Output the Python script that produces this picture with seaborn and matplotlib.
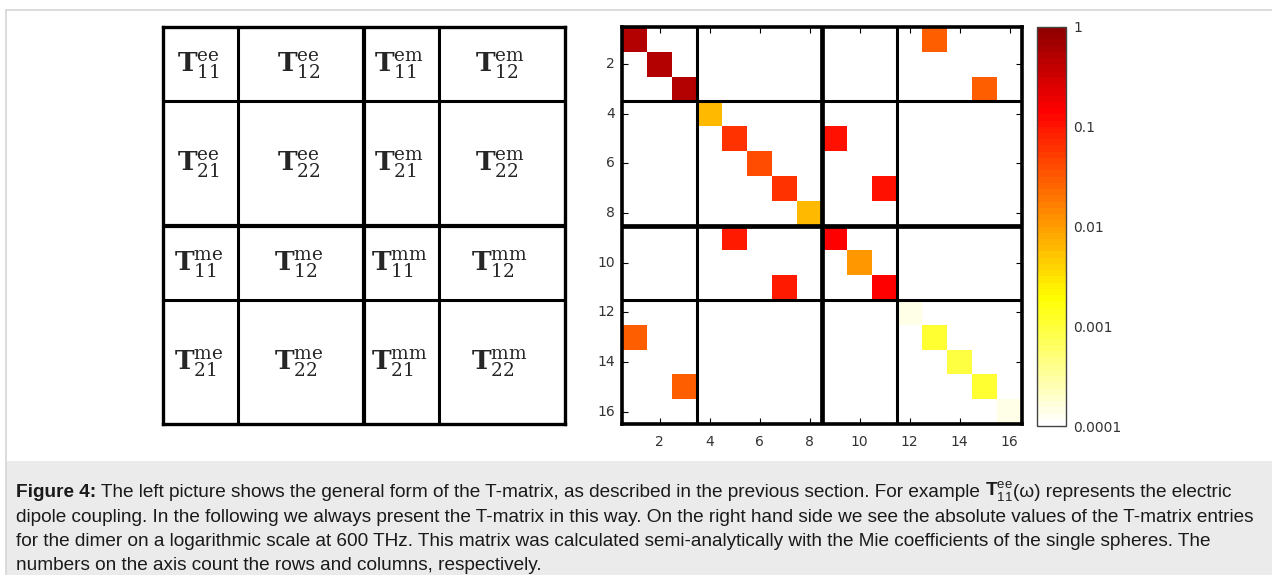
import numpy as np
import pandas as pd
import matplotlib
matplotlib.use("Agg")
import matplotlib.pyplot as plt
from matplotlib.colors import LogNorm, ListedColormap
from matplotlib.lines import Line2D
from matplotlib.patches import Rectangle
import seaborn as sns

# ---------------- data ----------------
n_modes = 16
block_sizes = [3, 5, 3, 5]          # dipole / quadrupole blocks for sphere 1, 2 (e then m)
block_bounds = [3, 8, 11]           # boundaries between blocks
diag_values = [0.5, 0.5, 0.5, 0.006, 0.06, 0.04, 0.06, 0.006,
               0.15, 0.01, 0.15, 0.00015, 0.001, 0.0009, 0.001, 0.00015]
coupling_rows = [1, 3, 13, 15, 5, 7, 9, 11]
coupling_cols = [13, 15, 1, 3, 9, 11, 5, 7]
coupling_values = [0.03, 0.03, 0.03, 0.03, 0.1, 0.1, 0.09, 0.09]
tick_labels = [2, 4, 6, 8, 10, 12, 14, 16]
cbar_ticks = [1e-4, 1e-3, 1e-2, 1e-1, 1]
cbar_labels = ["0.0001", "0.001", "0.01", "0.1", "1"]
block_types = [["ee", "em"], ["me", "mm"]]

W, H = 1272, 575
sns.set_theme(style="white")
plt.rcParams["font.family"] = ["DejaVu Sans"]
plt.rcParams["mathtext.fontset"] = "custom"
plt.rcParams["mathtext.rm"] = "Liberation Sans"
plt.rcParams["mathtext.bf"] = "Liberation Sans:bold"

fig = plt.figure(figsize=(W / 100, H / 100), dpi=100)
fig.patch.set_facecolor("white")

def px_rect(x0, y0, x1, y1):
    return [x0 / W, 1 - y1 / H, (x1 - x0) / W, (y1 - y0) / H]

# ---------------- caption panel + frame ----------------
fig.add_artist(Rectangle((6 / W, 0), 1 - 6 / W, 1 - 461 / H, transform=fig.transFigure,
                         facecolor="#ebebeb", edgecolor="none", zorder=0))
fig.add_artist(Line2D([6 / W, 1], [1 - 10 / H, 1 - 10 / H], transform=fig.transFigure,
                      color="#d6d6d6", lw=1.2))
fig.add_artist(Line2D([6 / W, 6 / W], [0, 1 - 10 / H], transform=fig.transFigure,
                      color="#d6d6d6", lw=1.2))

# ---------------- left: block structure ----------------
ax_t = fig.add_axes(px_rect(163, 27, 565, 424))
ax_t.set_xlim(0, n_modes)
ax_t.set_ylim(n_modes, 0)
ax_t.set_xticks([])
ax_t.set_yticks([])
for s in ax_t.spines.values():
    s.set_visible(True)
    s.set_linewidth(2.4)
    s.set_color("black")
for b in block_bounds:
    lw = 3.0 if b == 8 else 2.2
    ax_t.axvline(b, color="black", lw=lw)
    ax_t.axhline(b, color="black", lw=lw)
edges = np.concatenate([[0], np.cumsum(block_sizes)])
for r in range(4):
    for c in range(4):
        sup = block_types[r // 2][c // 2]
        sub = f"{r % 2 + 1}{c % 2 + 1}"
        ax_t.text((edges[c] + edges[c + 1]) / 2 - 0.1, (edges[r] + edges[r + 1]) / 2 + 0.05,
                  r"$\mathbf{T}_{%s}^{\mathrm{%s}}$" % (sub, sup),
                  ha="center", va="center", fontsize=19, math_fontfamily="dejavuserif")

# ---------------- right: |T| on a log scale ----------------
mat = np.zeros((n_modes, n_modes))
for i, v in enumerate(diag_values):
    mat[i, i] = v
for r, c, v in zip(coupling_rows, coupling_cols, coupling_values):
    mat[r - 1, c - 1] = v
labels = list(range(1, n_modes + 1))
df = pd.DataFrame(mat, index=labels, columns=labels)

cmap = ListedColormap(plt.get_cmap("hot")(np.linspace(1.0, 0.2, 64)))
ax_h = fig.add_axes(px_rect(622, 27, 1022, 424))
cax = fig.add_axes(px_rect(1037, 27, 1066, 426))
sns.heatmap(df, ax=ax_h, cmap=cmap, norm=LogNorm(vmin=1e-4, vmax=1),
            mask=(mat == 0), cbar_ax=cax, linewidths=0)
ax_h.set_facecolor("white")
ax_h.set_xlim(0, n_modes)
ax_h.set_ylim(n_modes, 0)
ax_h.set_xlabel("")
ax_h.set_ylabel("")
pos = np.array(tick_labels) - 0.5
ax_h.set_xticks(pos, [str(t) for t in tick_labels], rotation=0)
ax_h.set_yticks(pos, [str(t) for t in tick_labels], rotation=0)
ax_h.tick_params(axis="both", direction="in", length=4, width=0.8, color="black",
                 labelcolor="#333333", labelsize=10, top=True, right=True,
                 bottom=True, left=True)
ax_h.tick_params(axis="x", pad=8)
ax_h.tick_params(axis="y", pad=5)
for s in ax_h.spines.values():
    s.set_visible(True)
    s.set_linewidth(2.6)
    s.set_color("black")
for b in block_bounds:
    lw = 3.4 if b == 8 else 2.2
    ax_h.axvline(b, color="black", lw=lw)
    ax_h.axhline(b, color="black", lw=lw)

cbar = ax_h.collections[0].colorbar
cbar.set_ticks(cbar_ticks, labels=cbar_labels)
cbar.ax.minorticks_off()
cbar.ax.tick_params(direction="in", length=4, width=0.8, color="#333333",
                    labelcolor="#333333", labelsize=10, pad=5)
cbar.outline.set_linewidth(1.0)
cbar.outline.set_edgecolor("#444444")

# ---------------- caption ----------------
renderer = fig.canvas.get_renderer()
cap_font = dict(fontsize=13.7, family=["Liberation Sans"], color="#1a1a1a")

def place_runs(x_px, base_px, runs):
    x = x_px
    for txt, extra in runs:
        kw = dict(cap_font)
        kw.update(extra)
        t = fig.text(x / W, 1 - base_px / H, txt, ha="left", va="baseline", **kw)
        x += t.get_window_extent(renderer).width

bold = {"weight": "bold"}
place_runs(16, 497, [
    ("Figure 4:", bold),
    (" The left picture shows the general form of the T-matrix, as described in the previous section. For example ", {}),
    (r"$\mathbf{T}_{11}^{\mathrm{ee}}$", {"math_fontfamily": "custom"}),
    ("(\u03c9) represents the electric", {}),
])
place_runs(16, 521.5, [("dipole coupling. In the following we always present the T-matrix in this way. "
                        "On the right hand side we see the absolute values of the T-matrix entries", {})])
place_runs(16, 546, [("for the dimer on a logarithmic scale at 600 THz. This matrix was calculated "
                      "semi-analytically with the Mie coefficients of the single spheres. The", {})])
place_runs(16, 570, [("numbers on the axis count the rows and columns, respectively.", {})])

fig.savefig("out.png", dpi=100)
